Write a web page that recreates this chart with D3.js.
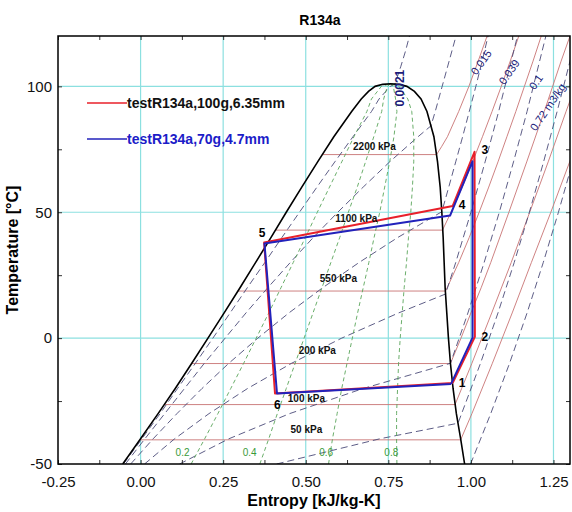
<!DOCTYPE html>
<html>
<head>
<meta charset="utf-8">
<script src="https://cdn.jsdelivr.net/npm/d3@7"></script>
<style>
  body { margin: 0; background: #fff; }
  svg { font-family: "Liberation Sans", Arial, sans-serif; }
</style>
</head>
<body>
<div id="chart"></div>
<script>
const MARGIN = { TOP: 36, BOTTOM: 48, LEFT: 58, RIGHT: 2 }
const WIDTH = 572 - MARGIN.LEFT - MARGIN.RIGHT
const HEIGHT = 512 - MARGIN.TOP - MARGIN.BOTTOM

// axis ticks
const X_TICKS = [-0.25, 0, 0.25, 0.5, 0.75, 1.0, 1.25]
const X_MINOR = [-0.125, 0.125, 0.375, 0.625, 0.875, 1.125]
const Y_TICKS = [-50, 0, 50, 100]
const Y_MINOR = [-25, 25, 75]

// saturation dome, s [kJ/kg-K] vs T [C]
const satT    = [-50, -40, -30, -20, -10, 0, 10, 20, 30, 40, 50, 60, 70, 80, 90, 95, 98, 100, 100.8]
const satSLiq = [-0.054, 0.000, 0.053, 0.105, 0.155, 0.204, 0.253, 0.301, 0.348, 0.395, 0.441, 0.488, 0.536, 0.585, 0.639, 0.668, 0.690, 0.710, 0.733]
const satSVap = [0.981, 0.969, 0.956, 0.946, 0.938, 0.932, 0.927, 0.922, 0.919, 0.916, 0.912, 0.907, 0.899, 0.888, 0.867, 0.849, 0.829, 0.806, 0.782]
const critPoint = [0.7565, 101.06]

// quality lines
const qualT = [-50, -40, -30, -20, -10, 0, 10, 20, 30, 40, 50, 60, 70, 80, 90, 95, 100, 101.06]
const qual02 = [0.153, 0.194, 0.234, 0.273, 0.312, 0.350, 0.388, 0.425, 0.462, 0.499, 0.535, 0.572, 0.609, 0.646, 0.685, 0.699, 0.729, 0.7565]
const qual04 = [0.361, 0.388, 0.414, 0.441, 0.468, 0.495, 0.522, 0.549, 0.576, 0.603, 0.629, 0.656, 0.681, 0.706, 0.730, 0.736, 0.747, 0.7565]
const qual06 = [0.569, 0.581, 0.595, 0.609, 0.625, 0.641, 0.657, 0.674, 0.691, 0.707, 0.724, 0.739, 0.754, 0.767, 0.776, 0.772, 0.765, 0.7565]
const qual08 = [0.776, 0.775, 0.775, 0.778, 0.781, 0.786, 0.792, 0.798, 0.805, 0.811, 0.818, 0.823, 0.827, 0.827, 0.821, 0.809, 0.782, 0.7565]
const qualLabels = ["0.2", "0.4", "0.6", "0.8"]
const qualLabelS = [0.127, 0.330, 0.562, 0.759]
const qualLabelT = -45.5

// isobars [s, T]
const p50   = [[-0.002, -40.4], [0.969, -40.4], [1.003, -30], [1.065, -10], [1.125, 10], [1.183, 30], [1.242, 50], [1.299, 70], [1.330, 80]]
const p100  = [[0.072, -26.4], [0.952, -26.4], [0.972, -20], [1.003, -10], [1.063, 10], [1.122, 30], [1.178, 50], [1.234, 70], [1.288, 90], [1.316, 100]]
const p200  = [[0.155, -10.1], [0.938, -10.1], [0.970, 0], [1.000, 10], [1.031, 20], [1.060, 30], [1.115, 50], [1.169, 70], [1.222, 90], [1.273, 110], [1.300, 120]]
const p550  = [[0.295, 18.7], [0.923, 18.7], [0.928, 20], [0.963, 30], [0.995, 40], [1.025, 50], [1.054, 60], [1.082, 70], [1.109, 80], [1.136, 90], [1.162, 100], [1.188, 110], [1.213, 120]]
const p1100 = [[0.408, 42.9], [0.914, 42.9], [0.940, 50], [0.974, 60], [1.005, 70], [1.035, 80], [1.064, 90], [1.092, 100], [1.119, 110], [1.145, 120]]
const p2200 = [[0.550, 72.9], [0.896, 72.9], [0.911, 76], [0.929, 80], [0.963, 90], [0.994, 100], [1.022, 110], [1.049, 120]]
const isobarLabels = ["2200 kPa", "1100 kPa", "550 kPa", "200 kPa", "100 kPa", "50 kPa"]
const isobarLabelS = [0.708, 0.653, 0.599, 0.535, 0.502, 0.502]
const isobarLabelT = [76.3, 47.7, 23.5, -5.1, -23.8, -36.1]

// isochores [s, T]
const v0021 = [[-0.052, -50], [0.004, -40], [0.059, -30], [0.112, -20], [0.166, -10], [0.219, 0], [0.271, 10], [0.323, 20], [0.376, 30], [0.428, 40], [0.481, 50], [0.534, 60], [0.588, 70], [0.643, 80], [0.699, 90], [0.722, 95], [0.756, 100], [0.770, 100.9], [0.788, 108], [0.802, 114], [0.814, 120]]
const v0056 = [[-0.046, -50], [0.013, -40], [0.073, -30], [0.133, -20], [0.193, -10], [0.256, 0], [0.319, 10], [0.385, 20], [0.453, 30], [0.523, 40], [0.597, 50], [0.674, 60], [0.754, 70], [0.840, 80], [0.879, 84.3], [0.892, 90], [0.913, 100], [0.934, 110], [0.955, 120]]
const v015  = [[-0.030, -50], [0.038, -40], [0.110, -30], [0.186, -20], [0.267, -10], [0.355, 0], [0.449, 10], [0.551, 20], [0.661, 30], [0.779, 40], [0.912, 50.2], [0.933, 60], [0.954, 70], [0.975, 80], [0.995, 90], [1.015, 100], [1.034, 110], [1.052, 120]]
const v039  = [[0.012, -50], [0.103, -40], [0.207, -30], [0.324, -20], [0.457, -10], [0.609, 0], [0.781, 10], [0.923, 17.5], [0.954, 30], [1.000, 50], [1.043, 70], [1.084, 90], [1.122, 110], [1.141, 120]]
const v1    = [[0.118, -50], [0.267, -40], [0.451, -30], [0.674, -20], [0.938, -10], [0.991, 10], [1.040, 30], [1.086, 50], [1.129, 70], [1.170, 90], [1.208, 110], [1.227, 120]]
const v27   = [[0.412, -50], [0.724, -40], [0.961, -33.8], [1.029, -10], [1.082, 10], [1.131, 30], [1.177, 50], [1.220, 70], [1.261, 90], [1.300, 110], [1.318, 120]]
const v72   = [[0.999, -50], [1.060, -30], [1.117, -10], [1.170, 10], [1.219, 30], [1.265, 50], [1.308, 70]]
const isochoreLabels = ["0.0021", "0.015", "0.039", "0.1", "0.72 m3/kg"]
const isochoreLabelS = [0.786, 1.031, 1.116, 1.197, 1.233]
const isochoreLabelT = [99.3, 109.6, 105.7, 101.7, 91.8]
const isochoreLabelAngle = [-90, -55, -55, -55, -56]

// measured cycles, states 1..6 and back to 1
const redS  = [0.945, 1.012, 1.011, 0.945, 0.374, 0.407, 0.945]
const redT  = [-17.8, 0.5, 74.0, 52.5, 38.0, -22.0, -17.8]
const blueS = [0.940, 1.005, 1.005, 0.937, 0.375, 0.413, 0.940]
const blueT = [-18.2, 0.2, 70.3, 48.7, 37.6, -22.0, -18.2]
const stateLabels = ["1", "2", "3", "4", "5", "6"]
const stateLabelS = [0.973, 1.042, 1.042, 0.973, 0.368, 0.414]
const stateLabelT = [-17.8, 0.4, 74.7, 52.9, 41.7, -26.6]

const seriesNames = ["testR134a,100g,6.35mm", "testR134a,70g,4.7mm"]

// plain hyphen for negatives, like the original
const fmtX = d => d3.format(".2f")(d).replace("\u2212", "-")
const fmtY = d => d3.format("d")(d).replace("\u2212", "-")

const svgRoot = d3.select("#chart").append("svg")
  .attr("width", 572).attr("height", 512)

svgRoot.append("text")
  .attr("x", 320).attr("y", 25)
  .attr("text-anchor", "middle")
  .attr("font-size", 14).attr("font-weight", "bold")
  .text("R134a")

const svg = svgRoot.append("g")
  .attr("transform", `translate(${MARGIN.LEFT}, ${MARGIN.TOP})`)

const x = d3.scaleLinear().domain([-0.25, 1.3]).range([0, WIDTH])
const y = d3.scaleLinear().domain([-50, 120]).range([HEIGHT, 0])
const line = d3.line().x(d => x(d[0])).y(d => y(d[1]))

svg.append("clipPath").attr("id", "plot-clip")
  .append("rect").attr("width", WIDTH).attr("height", HEIGHT)

// grid
svg.append("g").selectAll("line").data(X_TICKS.slice(1)).join("line")
  .attr("x1", d => x(d)).attr("x2", d => x(d))
  .attr("y1", 0).attr("y2", HEIGHT)
  .attr("stroke", "#8ce0e0").attr("stroke-width", 1.2)
svg.append("g").selectAll("line").data(Y_TICKS.slice(1)).join("line")
  .attr("x1", 0).attr("x2", WIDTH)
  .attr("y1", d => y(d)).attr("y2", d => y(d))
  .attr("stroke", "#8ce0e0").attr("stroke-width", 1.2)

const plot = svg.append("g").attr("clip-path", "url(#plot-clip)")

// isobars
plot.append("g").selectAll("path").data([p50, p100, p200, p550, p1100, p2200]).join("path")
  .attr("d", line).attr("fill", "none")
  .attr("stroke", "#c87474").attr("stroke-width", 0.9)

// isochores
plot.append("g").selectAll("path").data([v0021, v0056, v015, v039, v1, v27, v72]).join("path")
  .attr("d", line).attr("fill", "none")
  .attr("stroke", "#4b4b78").attr("stroke-width", 0.9)
  .attr("stroke-dasharray", "7,4")

// quality lines
plot.append("g").selectAll("path").data([qual02, qual04, qual06, qual08]).join("path")
  .attr("d", s => line(d3.zip(s, qualT))).attr("fill", "none")
  .attr("stroke", "#5aa55a").attr("stroke-width", 0.9)
  .attr("stroke-dasharray", "4,3")

// saturation dome
const dome = d3.zip(satSLiq, satT).concat([critPoint], d3.zip(satSVap, satT).reverse())
plot.append("path").attr("d", line(dome)).attr("fill", "none")
  .attr("stroke", "#000").attr("stroke-width", 1.6)

// cycles
plot.append("path").attr("d", line(d3.zip(redS, redT))).attr("fill", "none")
  .attr("stroke", "#e8202a").attr("stroke-width", 2).attr("stroke-linejoin", "round")
plot.append("path").attr("d", line(d3.zip(blueS, blueT))).attr("fill", "none")
  .attr("stroke", "#2222bb").attr("stroke-width", 2).attr("stroke-linejoin", "round")

// labels
svg.append("g").selectAll("text").data(isobarLabels).join("text")
  .attr("x", (d, i) => x(isobarLabelS[i])).attr("y", (d, i) => y(isobarLabelT[i]))
  .attr("dy", "0.35em").attr("text-anchor", "middle")
  .attr("font-size", 10).attr("font-weight", "bold").attr("fill", "#111")
  .text(d => d)

svg.append("g").selectAll("text").data(qualLabels).join("text")
  .attr("x", (d, i) => x(qualLabelS[i])).attr("y", y(qualLabelT))
  .attr("dy", "0.35em").attr("text-anchor", "middle")
  .attr("font-size", 10).attr("fill", "#3a9a3a")
  .text(d => d)

svg.append("g").selectAll("text").data(isochoreLabels).join("text")
  .attr("transform", (d, i) => `translate(${x(isochoreLabelS[i])},${y(isochoreLabelT[i])}) rotate(${isochoreLabelAngle[i]})`)
  .attr("dy", "0.35em").attr("text-anchor", "middle")
  .attr("font-size", (d, i) => i === 0 ? 12 : 11)
  .attr("font-weight", (d, i) => i === 0 ? "bold" : "normal")
  .attr("fill", "#1c1c7a")
  .text(d => d)

svg.append("g").selectAll("text").data(stateLabels).join("text")
  .attr("x", (d, i) => x(stateLabelS[i])).attr("y", (d, i) => y(stateLabelT[i]))
  .attr("dy", "0.35em").attr("text-anchor", "middle")
  .attr("font-size", 12).attr("font-weight", "bold")
  .text(d => d)

// axes
const styleAxis = g => {
  g.attr("font-family", null).attr("font-size", 15)
  g.select(".domain").remove()
  g.selectAll("text").attr("fill", "#111")
}
svg.append("g").attr("transform", `translate(0,${HEIGHT})`)
  .call(d3.axisBottom(x).tickValues(X_TICKS).tickFormat(fmtX).tickSize(0).tickPadding(12))
  .call(styleAxis)
svg.append("g")
  .call(d3.axisLeft(y).tickValues(Y_TICKS).tickFormat(fmtY).tickSize(0).tickPadding(6))
  .call(styleAxis)

// inward tick marks on all sides
const tickAxes = [
  [d3.axisBottom(x).tickValues(X_TICKS.concat(X_MINOR)), `translate(0,${HEIGHT})`],
  [d3.axisTop(x).tickValues(X_TICKS.concat(X_MINOR)), "translate(0,0)"],
  [d3.axisLeft(y).tickValues(Y_TICKS.concat(Y_MINOR)), "translate(0,0)"],
  [d3.axisRight(y).tickValues(Y_TICKS.concat(Y_MINOR)), `translate(${WIDTH},0)`]
]
tickAxes.forEach(([axis, tr]) => {
  svg.append("g").attr("transform", tr)
    .call(axis.tickSize(-4).tickFormat(""))
    .call(g => g.select(".domain").remove())
    .call(g => g.selectAll("line").attr("stroke", "#333"))
})

svg.append("rect").attr("width", WIDTH).attr("height", HEIGHT)
  .attr("fill", "none").attr("stroke", "#000").attr("stroke-width", 1.5)

svg.append("text")
  .attr("x", WIDTH / 2).attr("y", HEIGHT + 42)
  .attr("text-anchor", "middle")
  .attr("font-size", 16).attr("font-weight", "bold")
  .text("Entropy [kJ/kg-K]")
svg.append("text")
  .attr("x", -HEIGHT / 2).attr("y", -40)
  .attr("text-anchor", "middle").attr("transform", "rotate(-90)")
  .attr("font-size", 16).attr("font-weight", "bold")
  .text("Temperature [°C]")

// legend
const legend = svg.append("g").attr("transform", "translate(29, 67)")
const legendColors = ["#e8202a", "#2222bb"]
const legendTextColors = ["#111", "#1c1cc8"]
seriesNames.forEach((name, i) => {
  const row = legend.append("g").attr("transform", `translate(0, ${i * 36})`)
  row.append("line").attr("x1", 0).attr("x2", 40)
    .attr("stroke", legendColors[i]).attr("stroke-width", 1.5)
  row.append("text").attr("x", 40).attr("dy", "0.35em")
    .attr("font-size", 14).attr("font-weight", "bold")
    .attr("fill", legendTextColors[i])
    .text(name)
})
</script>
</body>
</html>
